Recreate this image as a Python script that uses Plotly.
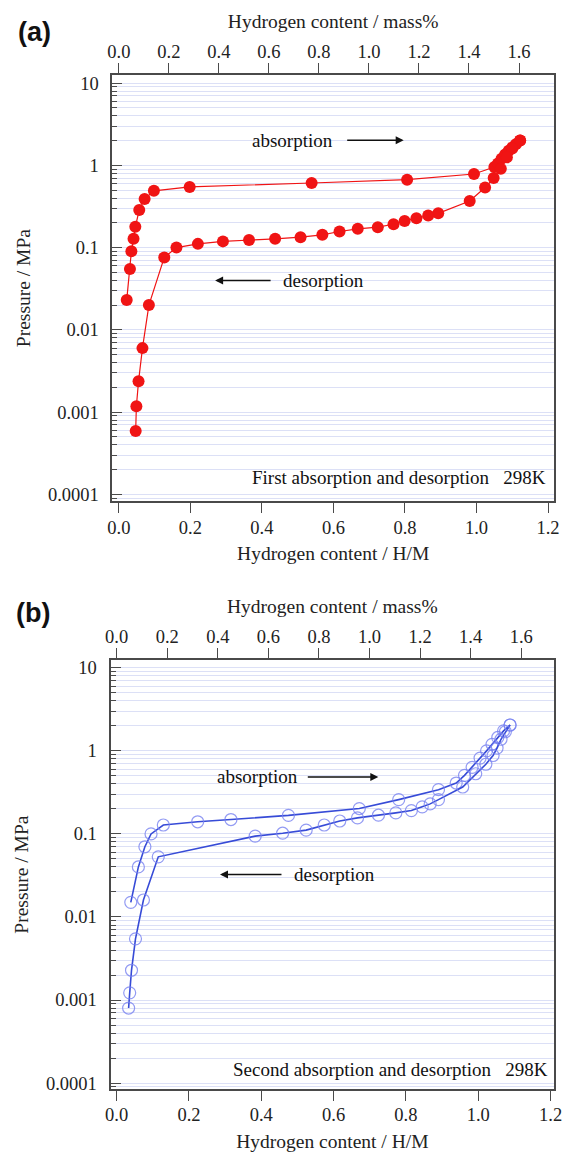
import plotly.graph_objects as go

# ---------------- data ----------------
abs1_x = [0.022, 0.031, 0.035, 0.041, 0.046, 0.057, 0.072, 0.098, 0.198, 0.539, 0.806, 0.993,
          1.050, 1.060, 1.070, 1.080, 1.090, 1.100, 1.110, 1.122]
abs1_p = [0.023, 0.055, 0.090, 0.128, 0.179, 0.286, 0.389, 0.490, 0.547, 0.610, 0.670, 0.785,
          0.955, 1.05, 1.20, 1.35, 1.50, 1.65, 1.80, 2.00]

des1_x = [1.122, 1.100, 1.085, 1.068, 1.048, 1.024, 0.981, 0.893, 0.865, 0.832, 0.799, 0.768,
          0.724, 0.668, 0.617, 0.569, 0.508, 0.437, 0.364, 0.291, 0.221, 0.161, 0.127, 0.084,
          0.066, 0.055, 0.049, 0.047]
des1_p = [2.00, 1.60, 1.25, 0.91, 0.70, 0.537, 0.368, 0.261, 0.245, 0.227, 0.211, 0.192,
          0.177, 0.169, 0.157, 0.143, 0.134, 0.128, 0.124, 0.119, 0.111, 0.100, 0.076, 0.020,
          0.0060, 0.00237, 0.00118, 0.00059]

abs2_x = [0.039, 0.060, 0.078, 0.095, 0.129, 0.224, 0.316, 0.475, 0.671, 0.780, 0.890, 0.939,
          0.962, 0.983, 1.005, 1.023, 1.038, 1.054, 1.070, 1.088]
abs2_p = [0.015, 0.040, 0.070, 0.100, 0.128, 0.140, 0.149, 0.167, 0.202, 0.259, 0.341, 0.410,
          0.507, 0.633, 0.818, 1.00, 1.20, 1.45, 1.74, 2.05]

des2_x = [1.088, 1.075, 1.063, 1.052, 1.041, 1.021, 0.993, 0.957, 0.890, 0.867, 0.845, 0.815,
          0.772, 0.724, 0.666, 0.617, 0.574, 0.524, 0.459, 0.383, 0.115, 0.074, 0.052, 0.041,
          0.036, 0.033]
des2_p = [2.05, 1.70, 1.38, 1.08, 0.88, 0.69, 0.53, 0.367, 0.259, 0.230, 0.212, 0.191,
          0.179, 0.168, 0.156, 0.143, 0.128, 0.111, 0.102, 0.094, 0.053, 0.016, 0.00545, 0.00228,
          0.00122, 0.0008]

p_tickvals = [0.0001, 0.001, 0.01, 0.1, 1, 10]
p_ticktext = ["0.0001", "0.001", "0.01", "0.1", "1", "10"]
mass_per_hm = 1.43  # mass% per H/M (top axis scale)

# ---------------- layout helpers ----------------
FW, FH = 570, 1156
def px(x):
    return x / FW
def py(y):
    return 1 - y / FH

SERIF = "Liberation Serif"
AXCOL = "#4a4a4a"
GRID = "rgb(220,224,246)"
red = "rgb(240,20,20)"
blue = "rgb(55,75,215)"

fig = go.Figure()

fig.add_trace(go.Scatter(x=abs1_x, y=abs1_p, xaxis="x", yaxis="y", mode="lines+markers",
                         line=dict(color=red, width=1.2),
                         marker=dict(color=red, size=12, symbol="circle"),
                         name="absorption 1", showlegend=False))
fig.add_trace(go.Scatter(x=des1_x, y=des1_p, xaxis="x", yaxis="y", mode="lines+markers",
                         line=dict(color=red, width=1.2),
                         marker=dict(color=red, size=12, symbol="circle"),
                         name="desorption 1", showlegend=False))
# same absorption data on the mass% scale (transparent) so the top axis is drawn
fig.add_trace(go.Scatter(x=[v * mass_per_hm for v in abs1_x], y=abs1_p, xaxis="x2", yaxis="y",
                         mode="markers", marker=dict(opacity=0), hoverinfo="skip", showlegend=False))

fig.add_trace(go.Scatter(x=abs2_x, y=abs2_p, xaxis="x3", yaxis="y2", mode="lines+markers",
                         line=dict(color=blue, width=1.6),
                         marker=dict(color="rgba(120,130,240,0.8)", size=12, symbol="circle-open",
                                     line=dict(width=1.2)),
                         name="absorption 2", showlegend=False))
fig.add_trace(go.Scatter(x=des2_x, y=des2_p, xaxis="x3", yaxis="y2", mode="lines+markers",
                         line=dict(color=blue, width=1.6),
                         marker=dict(color="rgba(120,130,240,0.8)", size=12, symbol="circle-open",
                                     line=dict(width=1.2)),
                         name="desorption 2", showlegend=False))
fig.add_trace(go.Scatter(x=[v * mass_per_hm for v in abs2_x], y=abs2_p, xaxis="x4", yaxis="y2",
                         mode="markers", marker=dict(opacity=0), hoverinfo="skip", showlegend=False))

tickfont = dict(family=SERIF, size=18.5, color="#222")
titlefont = dict(family=SERIF, size=19.5, color="#222")

def yax(domain, rng, xanchor):
    return dict(type="log", domain=domain, range=rng, anchor=xanchor,
                tickmode="array", tickvals=p_tickvals, ticktext=p_ticktext,
                ticks="inside", ticklen=10, tickwidth=1.2, tickcolor=AXCOL,
                showline=True, linecolor=AXCOL, linewidth=2, mirror=True,
                showgrid=True, gridcolor=GRID, gridwidth=1,
                minor=dict(dtick="D1", ticks="inside", ticklen=5, tickcolor=AXCOL,
                           showgrid=True, gridcolor=GRID, gridwidth=1),
                tickfont=tickfont, ticklabelstandoff=8, zeroline=False,
                title=dict(text="Pressure / MPa", font=titlefont, standoff=12))

def xbottom(domain, rng, yanchor):
    return dict(domain=domain, range=rng, anchor=yanchor, side="bottom",
                tickmode="linear", tick0=0, dtick=0.2, tickformat=".1f",
                ticks="outside", ticklen=10, tickwidth=1.2, tickcolor=AXCOL,
                showline=True, linecolor=AXCOL, linewidth=2, mirror=False,
                showgrid=False, zeroline=False, tickfont=tickfont, ticklabelstandoff=-2,
                title=dict(text="Hydrogen content / H/M", font=titlefont, standoff=10))

def xtop(overlay, yanchor, rng):
    return dict(overlaying=overlay, anchor=yanchor, side="top",
                range=[rng[0] * mass_per_hm, rng[1] * mass_per_hm],
                tickmode="linear", tick0=0, dtick=0.2, tickformat=".1f",
                ticks="outside", ticklen=10, tickwidth=1.2, tickcolor=AXCOL,
                showline=True, linecolor=AXCOL, linewidth=2,
                showgrid=False, zeroline=False, tickfont=tickfont, ticklabelstandoff=-2,
                title=dict(text="Hydrogen content / mass%", font=titlefont, standoff=8))

xr_a = [-0.0178, 1.2164]
xr_b = [-0.017, 1.21]

fig.update_layout(
    width=FW, height=FH, margin=dict(l=0, r=0, t=0, b=0),
    paper_bgcolor="white", plot_bgcolor="white", showlegend=False,
    xaxis=xbottom([px(110), px(561.7)], xr_a, "y"),
    xaxis2=xtop("x", "y", xr_a),
    yaxis=yax([py(502), py(73.3)], [-4.085, 1.099], "x"),
    xaxis3=xbottom([px(108), px(562)], xr_b, "y2"),
    xaxis4=xtop("x3", "y2", xr_b),
    yaxis2=yax([py(1092.7), py(661.7)], [-4.072, 1.091], "x3"),
)

ann = []
def text(x, y, s, anchor="center", size=19, family=SERIF, bold=False):
    ann.append(dict(x=px(x), y=py(y), xref="paper", yref="paper", text=("<b>%s</b>" % s) if bold else s,
                    showarrow=False, xanchor=anchor, yanchor="middle",
                    font=dict(family=family, size=size, color="#111")))

def arrow(x0, x1, y):
    ann.append(dict(x=px(x1), y=py(y), xref="paper", yref="paper", text="",
                    showarrow=True, ax=x0 - x1, ay=0, axref="pixel", ayref="pixel",
                    arrowhead=2, arrowsize=1, arrowwidth=1.6, arrowcolor="#111"))

# panel (a)
text(11, 30, "(a)", anchor="left", size=27, family="Liberation Sans", bold=True)
text(294, 139, "absorption")
arrow(350, 408, 139)
text(326, 280, "desorption")
arrow(272, 215, 280)
text(556, 478, "First absorption and desorption   298K", anchor="right")

# panel (b)
text(9, 614, "(b)", anchor="left", size=27, family="Liberation Sans", bold=True)
text(258, 779, "absorption")
arrow(310, 382, 779)
text(337, 877, "desorption")
arrow(283, 220, 877)
text(558, 1073, "Second absorption and desorption   298K", anchor="right")

fig.update_layout(annotations=ann)

fig.write_html(
    "out.html",
    config={"displayModeBar": False},
    post_script="document.body.style.margin='0';document.documentElement.style.overflow='hidden';",
)
